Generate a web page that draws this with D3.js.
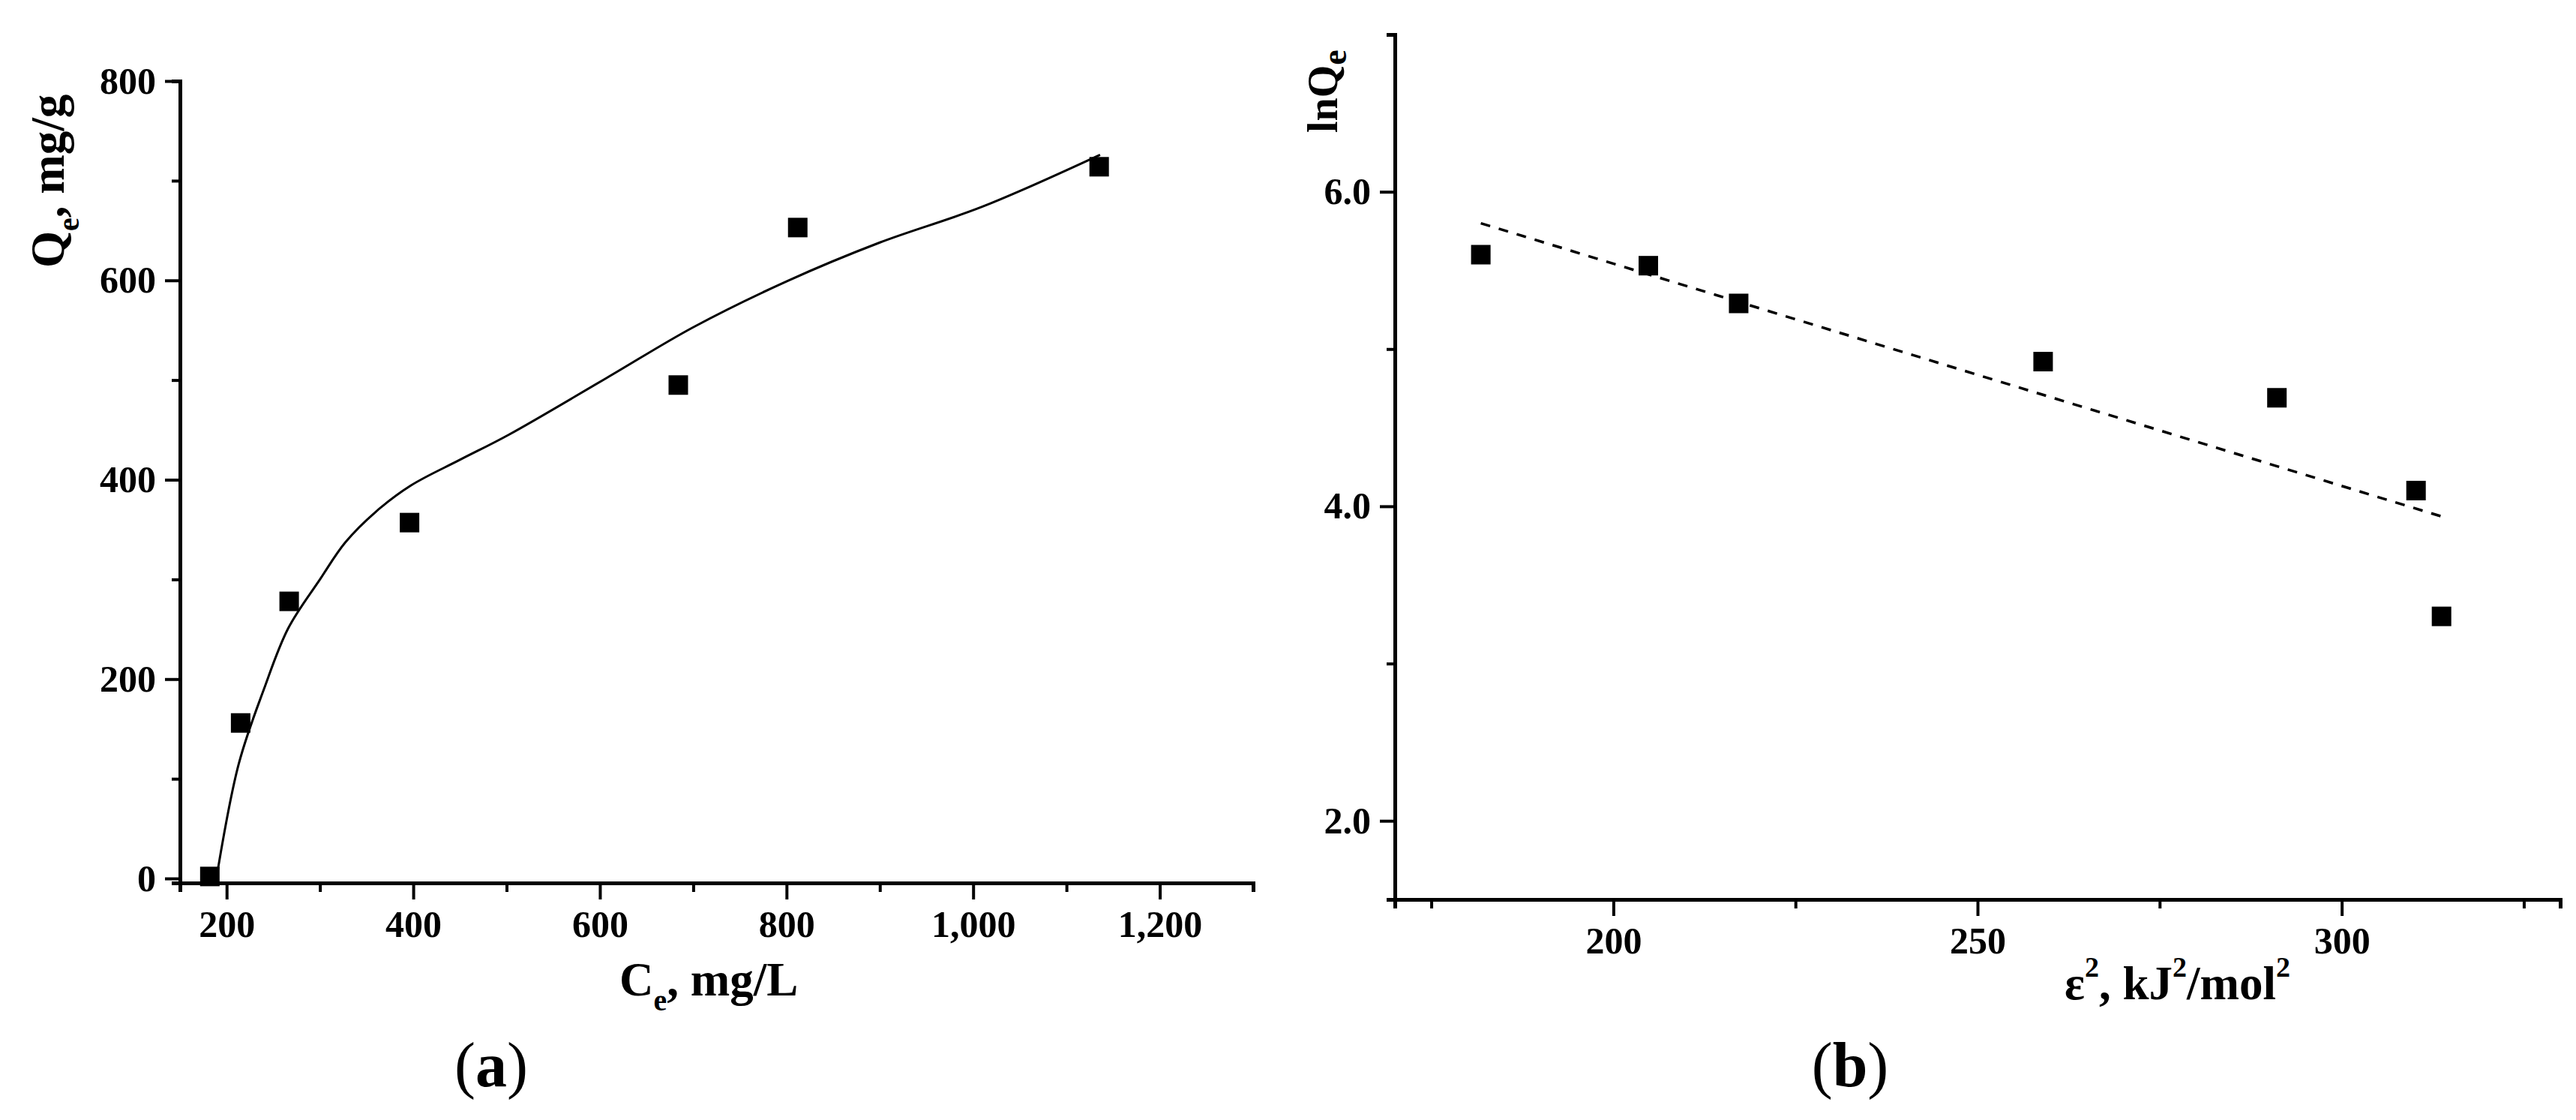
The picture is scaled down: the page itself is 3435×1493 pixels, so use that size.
<!DOCTYPE html>
<html><head><meta charset="utf-8">
<script src="https://cdn.jsdelivr.net/npm/d3@7"></script>
<style>body{margin:0;background:#fff}svg{display:block}text{font-family:"Liberation Serif","Times New Roman",serif;fill:#000}</style>
</head><body><svg id="c" width="3435" height="1493"></svg>
<script>
// Panel (a)
const aCe = [182, 215, 267, 396, 684, 812, 1135];
const aQe = [2, 156, 278, 357, 495, 653, 714];
const aFitCe = [189, 213, 240, 266, 300, 327, 360, 397, 450, 502, 607, 700, 800, 900, 1010, 1136];
const aFitQe = [0, 115, 190, 251, 300, 337, 368, 394, 420, 445, 502, 553, 599, 638, 674, 726];
const aXMajor = [200, 400, 600, 800, 1000, 1200];
const aXMinor = [300, 500, 700, 900, 1100];
const aYMajor = [0, 200, 400, 600, 800];
const aYMinor = [100, 300, 500, 700];
// Panel (b)
const bEps = [181.8, 204.8, 217.2, 259, 291.1, 310.2, 313.7];
const bLnQ = [5.60, 5.53, 5.29, 4.92, 4.69, 4.10, 3.30];
const bFitEps = [181.8, 314.1];
const bFitLnQ = [5.80, 3.93];
const bXMajor = [200, 250, 300];
const bXMinor = [175, 225, 275, 325];
const bYMajor = [2, 4, 6];
const bYMinor = [3, 5, 7];

const svg = d3.select("#c");

function panel(o){
  const g = svg.append("g");
  const x = d3.scaleLinear().domain(o.xd).range(o.xr);
  const y = d3.scaleLinear().domain(o.yd).range(o.yr);
  const x0 = o.xr[0], y0 = o.yr[0];
  // axes
  const ax = d3.axisBottom(x).tickValues(o.xMaj).tickSize(22).tickSizeOuter(0).tickPadding(14);
  const axm = d3.axisBottom(x).tickValues(o.xMin).tickSize(12).tickFormat("");
  const ay = d3.axisLeft(y).tickValues(o.yMaj).tickSize(20).tickSizeOuter(0).tickPadding(12);
  const aym = d3.axisLeft(y).tickValues(o.yMin).tickSize(11).tickFormat("");
  [[ax,"x"],[axm,"x"],[ay,"y"],[aym,"y"]].forEach(([a,t])=>{
    const gg = g.append("g").attr("transform", t==="x" ? `translate(0,${y0})` : `translate(${x0},0)`).call(a);
    gg.selectAll("path").attr("stroke","#000").attr("stroke-width",5);
    gg.selectAll("line").attr("stroke","#000").attr("stroke-width",4);
    gg.selectAll("text").attr("font-size",50).attr("font-weight","bold").attr("font-family",'"Liberation Serif",serif').attr("fill","#000");
  });
  if(o.endTick) g.append("line").attr("x1",o.xr[1]).attr("x2",o.xr[1]).attr("y1",y0).attr("y2",y0+12).attr("stroke","#000").attr("stroke-width",4);
  // fit line
  const fit = o.fx.map((v,i)=>[v,o.fy[i]]);
  g.append("path").datum(fit).attr("fill","none").attr("stroke","#000").attr("stroke-width",o.dash?3.5:3)
    .attr("stroke-dasharray",o.dash?"13,12":null)
    .attr("d",d3.line().x(d=>x(d[0])).y(d=>y(d[1])).curve(o.dash?d3.curveLinear:d3.curveCatmullRom));
  // points
  const s = 26;
  g.selectAll("rect.p").data(o.px.map((v,i)=>[v,o.py[i]])).enter().append("rect")
    .attr("x",d=>x(d[0])-s/2).attr("y",d=>y(d[1])-s/2).attr("width",s).attr("height",s).attr("fill","#000");
  return {x,y};
}

panel({xd:[150,1300], xr:[240,1671], yd:[-4.5,800], yr:[1177,108],
  xMaj:aXMajor, xMin:aXMinor, yMaj:aYMajor, yMin:aYMinor,
  fx:aFitCe, fy:aFitQe, px:aCe, py:aQe, dash:false, endTick:true});
panel({xd:[170,330], xr:[1860,3414], yd:[1.5,7], yr:[1199,46],
  xMaj:bXMajor, xMin:bXMinor, yMaj:bYMajor, yMin:bYMinor,
  fx:bFitEps, fy:bFitLnQ, px:bEps, py:bLnQ, dash:true, endTick:false});

// titles
const t1 = svg.append("text").attr("x",826).attr("y",1327).attr("font-size",63).attr("font-weight","bold");
t1.append("tspan").text("C");
t1.append("tspan").attr("font-size",40).attr("dy",20).text("e");
t1.append("tspan").attr("dy",-20).text(", mg/L");

const t2 = svg.append("text").attr("transform","translate(85,357) rotate(-90)").attr("font-size",63).attr("font-weight","bold");
t2.append("tspan").text("Q");
t2.append("tspan").attr("font-size",40).attr("dy",20).text("e");
t2.append("tspan").attr("dy",-20).text(", mg/g");

const t3 = svg.append("text").attr("transform","translate(1783,177) rotate(-90)").attr("font-size",56).attr("font-weight","bold");
t3.append("tspan").text("lnQ");
t3.append("tspan").attr("font-size",46).attr("dy",12).text("e");

const t4 = svg.append("text").attr("x",2753).attr("y",1332).attr("font-size",63).attr("font-weight","bold");
t4.append("tspan").text("ε");
t4.append("tspan").attr("font-size",38).attr("dy",-30).text("2");
t4.append("tspan").attr("dy",30).text(", kJ");
t4.append("tspan").attr("font-size",38).attr("dy",-30).text("2");
t4.append("tspan").attr("dy",30).text("/mol");
t4.append("tspan").attr("font-size",38).attr("dy",-30).text("2");

[["a",655],["b",2467]].forEach(([l,cx])=>{
  const t = svg.append("text").attr("x",cx).attr("y",1448).attr("text-anchor","middle").attr("font-size",84);
  t.append("tspan").text("(");
  t.append("tspan").attr("font-weight","bold").text(l);
  t.append("tspan").text(")");
});
</script></body></html>
